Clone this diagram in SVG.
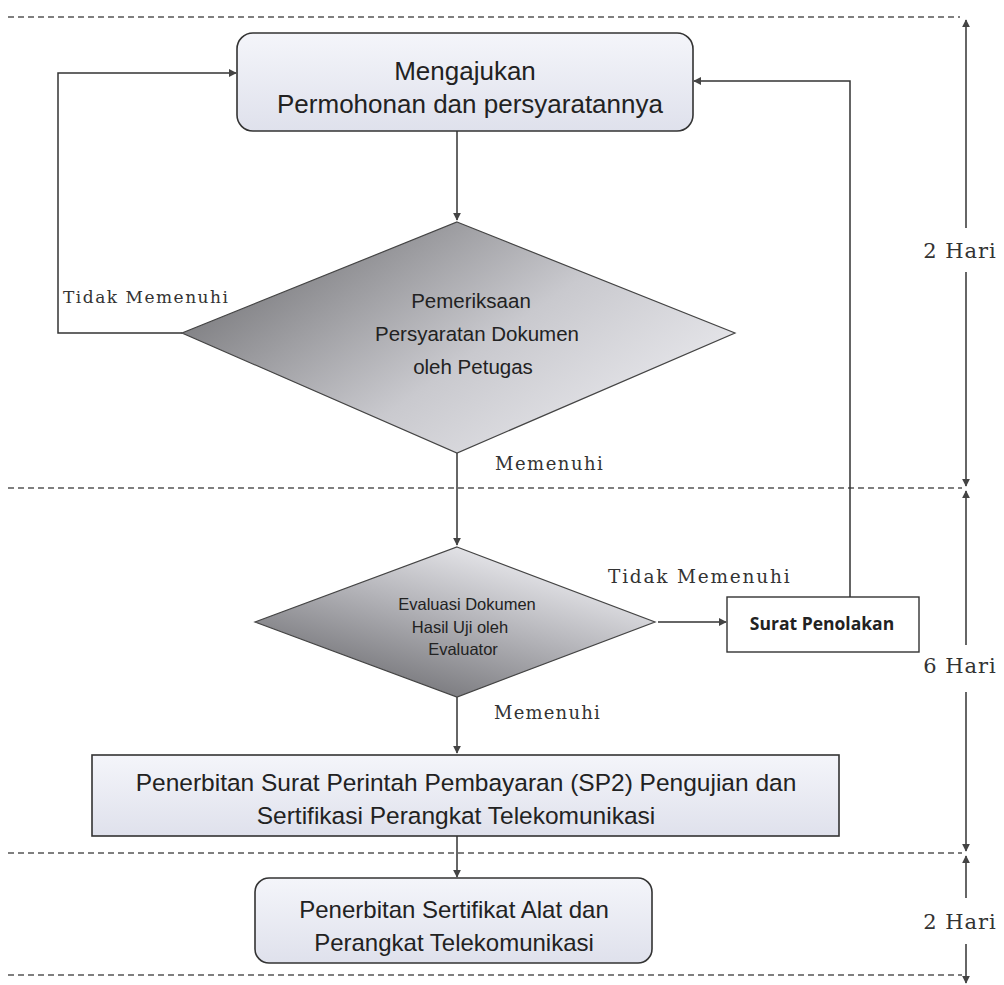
<svg xmlns="http://www.w3.org/2000/svg" width="1004" height="985" viewBox="0 0 1004 985">
<style>
.sans{font-family:"Liberation Sans",Arial,sans-serif;fill:#222}
.serif{font-family:"DejaVu Serif","Liberation Serif",serif;fill:#333}
.ln{fill:none;stroke:#333;stroke-width:1.5}
.dash{fill:none;stroke:#555;stroke-width:1.3;stroke-dasharray:6,4}
.box{stroke:#333;stroke-width:1.6}
</style>
<defs>
<marker id="ah" viewBox="0 0 10 10" refX="9" refY="5" markerWidth="8" markerHeight="8" orient="auto" markerUnits="userSpaceOnUse">
<path d="M0,0 L10,5 L0,10 z" fill="#444"/>
</marker>
<linearGradient id="gBox" x1="0" y1="0" x2="0" y2="1">
<stop offset="0" stop-color="#f4f5fa"/>
<stop offset="1" stop-color="#dfe1ec"/>
</linearGradient>
<linearGradient id="gDia" x1="0" y1="0.2" x2="1" y2="0.8">
<stop offset="0" stop-color="#6f6f72"/>
<stop offset="0.55" stop-color="#c9c9ce"/>
<stop offset="1" stop-color="#eeeef2"/>
</linearGradient>
<linearGradient id="gDia2" x1="0.1" y1="0.9" x2="0.7" y2="0.1">
<stop offset="0" stop-color="#6a6a6e"/>
<stop offset="0.6" stop-color="#b5b5ba"/>
<stop offset="1" stop-color="#e6e6ea"/>
</linearGradient>
</defs>

<g id="timeline">
<line class="dash" x1="8" y1="17" x2="960" y2="17"/>
<line class="dash" x1="8" y1="488" x2="962" y2="488"/>
<line class="dash" x1="8" y1="853" x2="962" y2="853"/>
<line class="dash" x1="8" y1="975" x2="962" y2="975"/>
<line class="ln" x1="966" y1="228" x2="966" y2="20" marker-end="url(#ah)"/>
<line class="ln" x1="966" y1="272" x2="966" y2="486" marker-end="url(#ah)"/>
<text class="serif" x="960" y="258" font-size="21" letter-spacing="1" text-anchor="middle">2 Hari</text>
<line class="ln" x1="966" y1="645" x2="966" y2="491" marker-end="url(#ah)"/>
<line class="ln" x1="966" y1="692" x2="966" y2="851" marker-end="url(#ah)"/>
<text class="serif" x="960" y="673" font-size="21" letter-spacing="1" text-anchor="middle">6 Hari</text>
<line class="ln" x1="966" y1="898" x2="966" y2="856" marker-end="url(#ah)"/>
<line class="ln" x1="966" y1="944" x2="966" y2="983" marker-end="url(#ah)"/>
<text class="serif" x="960" y="929" font-size="21" letter-spacing="1" text-anchor="middle">2 Hari</text>
</g>

<g id="connectors">
<line class="ln" x1="457" y1="131" x2="457" y2="220" marker-end="url(#ah)"/>
<polyline class="ln" points="182,333 58,333 58,73 236,73" marker-end="url(#ah)"/>
<line class="ln" x1="457" y1="453" x2="457" y2="545" marker-end="url(#ah)"/>
<line class="ln" x1="658" y1="622" x2="726" y2="622" marker-end="url(#ah)"/>
<polyline class="ln" points="850,597 850,81 694,81" marker-end="url(#ah)"/>
<line class="ln" x1="457" y1="697" x2="457" y2="753" marker-end="url(#ah)"/>
<line class="ln" x1="457" y1="836" x2="457" y2="877" marker-end="url(#ah)"/>
<text class="serif" x="63" y="303" font-size="17" letter-spacing="1.5">Tidak Memenuhi</text>
<text class="serif" x="495" y="470" font-size="18" letter-spacing="1.5">Memenuhi</text>
<text class="serif" x="608" y="583" font-size="18.5" letter-spacing="1.8">Tidak Memenuhi</text>
<text class="serif" x="494" y="719" font-size="18" letter-spacing="1.2">Memenuhi</text>
</g>

<g id="n1">
<rect class="box" x="237" y="33" width="456" height="98" rx="16" fill="url(#gBox)"/>
<text class="sans" x="465" y="80" font-size="26" text-anchor="middle">Mengajukan</text>
<text class="sans" x="470" y="113" font-size="26" text-anchor="middle">Permohonan dan persyaratannya</text>
</g>

<g id="n2">
<polygon points="457,222 735,333 457,453 182,333" fill="url(#gDia)" stroke="#444" stroke-width="1.2"/>
<text class="sans" x="471" y="308" font-size="20.5" text-anchor="middle">Pemeriksaan</text>
<text class="sans" x="477" y="341" font-size="20.5" text-anchor="middle">Persyaratan Dokumen</text>
<text class="sans" x="473" y="374" font-size="20.5" text-anchor="middle">oleh Petugas</text>
</g>

<g id="n3">
<polygon points="457,547 655,622 457,697 255,622" fill="url(#gDia2)" stroke="#444" stroke-width="1.2"/>
<text class="sans" x="467" y="610" font-size="16.5" text-anchor="middle">Evaluasi Dokumen</text>
<text class="sans" x="460" y="633" font-size="16.5" text-anchor="middle">Hasil Uji oleh</text>
<text class="sans" x="463" y="655" font-size="16.5" text-anchor="middle">Evaluator</text>
</g>

<g id="n4">
<rect x="727" y="597" width="192" height="55" fill="#fff" stroke="#333" stroke-width="1.4"/>
<text class="sans" x="822" y="630" font-size="17.5" font-weight="bold" text-anchor="middle" style="font-family:'Open Sans','Liberation Sans',sans-serif">Surat Penolakan</text>
</g>

<g id="n5">
<rect class="box" x="92" y="755" width="747" height="81" fill="url(#gBox)"/>
<text class="sans" x="466" y="791" font-size="24.5" text-anchor="middle">Penerbitan Surat Perintah Pembayaran (SP2) Pengujian dan</text>
<text class="sans" x="456" y="824" font-size="24.5" text-anchor="middle">Sertifikasi Perangkat Telekomunikasi</text>
</g>

<g id="n6">
<rect class="box" x="255" y="878" width="397" height="85" rx="14" fill="url(#gBox)"/>
<text class="sans" x="454" y="918" font-size="24" text-anchor="middle">Penerbitan Sertifikat Alat dan</text>
<text class="sans" x="454" y="951" font-size="24" text-anchor="middle">Perangkat Telekomunikasi</text>
</g>
</svg>
